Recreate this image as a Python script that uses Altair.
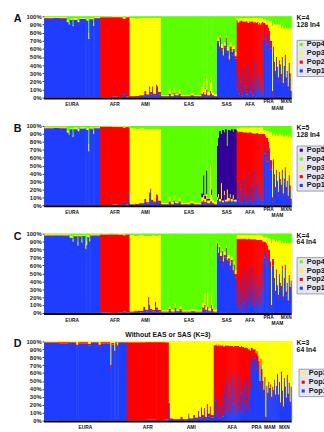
import altair as alt
import pandas as pd

FONT = "Liberation Sans"

# ---------------- colours ----------------
pop_colors = {"Pop1": "#1f3dff", "Pop2": "#ff0000", "Pop3": "#ffff00",
              "Pop4": "#5cff00", "Pop5": "#330099"}

# ---------------- Panel A (K=4, 128 In4): [n, Pop1, Pop2, Pop3, Pop4] ----------------
a_eura = [[10, 97, 1, 1, 1], [5, 98, 0, 1, 1], [8, 97, 1, 1, 1], [2, 93, 0, 2, 5], [1, 90, 0, 3, 7],
          [3, 96, 0, 1, 3], [1, 88, 0, 2, 10], [4, 96, 0, 2, 2], [2, 92, 1, 2, 5], [6, 97, 0, 1, 2],
          [1, 96, 1, 1, 2], [2, 95, 0, 2, 3], [1, 72, 0, 8, 20], [4, 96, 1, 1, 2], [1, 88, 0, 4, 8],
          [6, 97, 1, 1, 1]]
a_afr = [[12, 0, 99, 0, 1], [6, 1, 98, 1, 0], [5, 0, 99, 1, 0], [2, 4, 93, 2, 1], [1, 6, 91, 2, 1],
         [4, 1, 98, 1, 0]]
a_ami = [[6, 1, 1, 96, 2], [4, 0, 2, 95, 3], [5, 2, 1, 95, 2], [2, 5, 3, 90, 2], [3, 2, 2, 94, 2],
         [1, 10, 4, 84, 2], [2, 4, 3, 91, 2], [1, 8, 6, 84, 2], [3, 3, 2, 93, 2], [1, 12, 4, 82, 2],
         [1, 6, 8, 84, 2], [3, 4, 3, 91, 2]]
a_eas = [[8, 1, 1, 1, 97], [2, 3, 2, 6, 89], [3, 1, 1, 2, 96], [1, 4, 2, 6, 88], [4, 2, 1, 1, 96],
         [2, 3, 2, 5, 90], [10, 1, 1, 1, 97], [3, 2, 1, 2, 95], [8, 1, 1, 1, 97], [2, 3, 2, 8, 87],
         [1, 4, 3, 16, 77], [2, 2, 2, 6, 90], [1, 6, 4, 14, 76], [3, 2, 1, 4, 93], [1, 5, 3, 10, 82],
         [1, 3, 2, 20, 75], [2, 2, 1, 3, 94], [3, 1, 1, 2, 96]]
a_sas = [[2, 68, 2, 4, 26], [1, 60, 3, 6, 31], [1, 72, 2, 3, 23], [2, 58, 3, 5, 34], [1, 50, 2, 8, 40],
         [2, 62, 2, 4, 32], [1, 70, 4, 3, 23], [2, 55, 3, 5, 37], [1, 45, 2, 6, 47], [2, 60, 3, 4, 33],
         [1, 52, 4, 6, 38], [2, 58, 2, 4, 36], [2, 48, 3, 5, 44]]
a_afa = [[1, 10, 85, 3, 2], [1, 30, 62, 5, 3], [1, 5, 88, 4, 3], [1, 20, 74, 4, 2], [2, 3, 92, 3, 2],
         [1, 35, 58, 4, 3], [1, 8, 86, 4, 2], [1, 15, 78, 5, 2], [2, 4, 90, 4, 2], [1, 40, 52, 5, 3],
         [1, 12, 80, 6, 2], [1, 6, 88, 4, 2], [1, 25, 68, 5, 2], [2, 3, 91, 4, 2], [1, 18, 74, 6, 2],
         [1, 45, 48, 5, 2], [1, 8, 84, 6, 2], [1, 22, 70, 6, 2], [1, 5, 88, 5, 2], [1, 30, 60, 7, 3],
         [1, 10, 82, 6, 2], [1, 15, 75, 7, 3], [1, 6, 86, 6, 2], [1, 4, 89, 5, 2]]
a_pra = [[2, 72, 20, 4, 4], [1, 80, 10, 6, 4], [2, 65, 25, 5, 5], [1, 78, 8, 10, 4], [1, 70, 12, 12, 6],
         [2, 60, 10, 24, 6], [1, 3, 5, 80, 12], [1, 55, 8, 30, 7]]
a_mam = [[1, 40, 4, 46, 10], [1, 30, 3, 57, 10], [1, 45, 5, 40, 10], [1, 35, 3, 52, 10],
         [1, 20, 5, 65, 10], [1, 42, 4, 44, 10], [1, 38, 3, 50, 9]]
a_mxn = [[1, 25, 4, 56, 15], [1, 45, 5, 38, 12], [1, 15, 3, 67, 15], [1, 35, 4, 46, 15],
         [1, 50, 3, 35, 12], [1, 20, 5, 60, 15], [1, 30, 3, 52, 15], [1, 10, 4, 71, 15],
         [1, 40, 3, 42, 15], [1, 25, 5, 55, 15], [1, 5, 3, 77, 15]]

# ---------------- Panel B (K=5, 128 In4): [n, Pop1, Pop2, Pop3, Pop4, Pop5] ----------------
b_eura = [[10, 97, 1, 1, 1, 0], [5, 98, 0, 1, 1, 0], [8, 97, 1, 1, 1, 0], [2, 92, 0, 2, 6, 0],
          [1, 89, 0, 3, 8, 0], [3, 96, 0, 1, 3, 0], [1, 86, 0, 3, 11, 0], [4, 96, 0, 2, 2, 0],
          [2, 93, 1, 2, 4, 0], [6, 97, 0, 1, 2, 0], [1, 96, 1, 1, 2, 0], [2, 95, 0, 2, 3, 0],
          [1, 68, 0, 10, 22, 0], [4, 96, 1, 1, 2, 0], [1, 90, 0, 4, 6, 0], [6, 97, 1, 1, 1, 0]]
b_afr = [[12, 0, 99, 0, 1, 0], [6, 1, 98, 1, 0, 0], [5, 0, 99, 1, 0, 0], [2, 3, 95, 1, 1, 0],
         [1, 5, 93, 1, 1, 0], [3, 1, 98, 1, 0, 0], [1, 14, 84, 1, 1, 0]]
b_ami = [[6, 1, 1, 95, 3, 0], [4, 0, 2, 94, 4, 0], [5, 2, 1, 94, 3, 0], [2, 5, 3, 88, 4, 0],
         [3, 2, 2, 92, 4, 0], [1, 10, 6, 80, 4, 0], [1, 18, 3, 75, 4, 0], [2, 4, 3, 89, 4, 0],
         [3, 3, 2, 91, 4, 0], [1, 8, 6, 82, 4, 0], [1, 5, 8, 83, 4, 0], [3, 3, 3, 90, 4, 0]]
b_eas = [[8, 1, 1, 1, 97, 0], [2, 3, 2, 5, 90, 0], [3, 1, 1, 2, 96, 0], [1, 4, 2, 6, 88, 0],
         [4, 2, 1, 1, 96, 0], [2, 3, 2, 4, 91, 0], [10, 1, 1, 1, 97, 0], [3, 2, 1, 2, 95, 0],
         [8, 1, 1, 1, 97, 0], [2, 3, 2, 5, 85, 5], [1, 4, 3, 6, 62, 25], [2, 2, 2, 4, 88, 4],
         [1, 5, 3, 6, 56, 30], [3, 2, 1, 3, 92, 2], [1, 3, 2, 45, 50, 0], [1, 3, 2, 8, 80, 7],
         [2, 2, 1, 3, 94, 0], [3, 1, 1, 2, 96, 0]]
b_sas = [[1, 5, 2, 3, 25, 65], [1, 8, 2, 4, 15, 71], [2, 4, 1, 3, 6, 86], [1, 6, 2, 20, 10, 62],
         [2, 3, 1, 2, 5, 89], [1, 10, 3, 5, 8, 74], [2, 4, 1, 2, 4, 89], [1, 3, 2, 15, 25, 55],
         [2, 5, 1, 3, 5, 86], [1, 8, 2, 4, 6, 80], [2, 4, 1, 3, 4, 88], [1, 6, 2, 5, 7, 80],
         [3, 4, 1, 2, 4, 89]]
b_afa = [[1, 10, 84, 4, 2, 0], [1, 30, 62, 5, 3, 0], [1, 5, 88, 4, 3, 0], [1, 20, 73, 5, 2, 0],
         [2, 3, 90, 5, 2, 0], [1, 35, 57, 5, 3, 0], [1, 8, 84, 6, 2, 0], [1, 15, 77, 6, 2, 0],
         [2, 4, 88, 6, 2, 0], [1, 40, 51, 6, 3, 0], [1, 12, 80, 6, 2, 0], [1, 6, 86, 6, 2, 0],
         [1, 25, 67, 6, 2, 0], [2, 3, 88, 7, 2, 0], [1, 18, 72, 8, 2, 0], [1, 45, 46, 7, 2, 0],
         [1, 8, 82, 8, 2, 0], [1, 22, 69, 7, 2, 0], [1, 5, 86, 7, 2, 0], [1, 30, 60, 7, 3, 0],
         [1, 10, 80, 8, 2, 0], [1, 15, 75, 8, 2, 0], [1, 6, 84, 8, 2, 0], [1, 4, 86, 8, 2, 0]]
b_pra = [[2, 65, 25, 5, 5, 0], [1, 75, 12, 8, 5, 0], [2, 55, 30, 8, 7, 0], [1, 70, 10, 14, 6, 0],
         [1, 60, 12, 20, 8, 0], [2, 45, 12, 35, 8, 0], [1, 5, 5, 78, 12, 0], [1, 50, 8, 32, 10, 0]]
b_mam = [[1, 35, 4, 51, 10, 0], [1, 20, 3, 65, 12, 0], [1, 40, 5, 45, 10, 0], [1, 28, 3, 57, 12, 0],
         [1, 12, 5, 71, 12, 0], [1, 38, 4, 48, 10, 0], [1, 30, 3, 57, 10, 0]]
b_mxn = [[1, 22, 4, 62, 12, 0], [1, 40, 5, 44, 11, 0], [1, 12, 3, 72, 13, 0], [1, 30, 4, 52, 14, 0],
         [1, 45, 3, 40, 12, 0], [1, 18, 5, 64, 13, 0], [1, 28, 3, 57, 12, 0], [1, 8, 4, 74, 14, 0],
         [1, 35, 3, 50, 12, 0], [1, 20, 5, 62, 13, 0], [1, 5, 3, 77, 15, 0]]

# ---------------- Panel C (K=4, 64 In4): [n, Pop1, Pop2, Pop3, Pop4] ----------------
c_eura = [[12, 97, 1, 1, 1], [6, 98, 0, 1, 1], [8, 97, 1, 1, 1], [3, 95, 0, 2, 3], [1, 90, 0, 3, 7],
          [4, 96, 1, 1, 2], [1, 85, 0, 5, 10], [3, 96, 1, 1, 2], [1, 88, 1, 4, 7], [3, 97, 0, 1, 2],
          [1, 80, 1, 6, 13], [1, 86, 0, 5, 9], [2, 95, 1, 2, 2], [1, 90, 0, 4, 6], [10, 97, 1, 1, 1]]
c_afr = [[10, 1, 98, 0, 1], [8, 0, 99, 0, 1], [5, 1, 98, 1, 0], [3, 2, 96, 1, 1], [4, 1, 98, 0, 1]]
c_ami = [[5, 1, 1, 96, 2], [4, 2, 1, 94, 3], [5, 1, 2, 95, 2], [2, 5, 3, 89, 3], [3, 2, 2, 93, 3],
         [1, 12, 8, 77, 3], [1, 6, 4, 87, 3], [2, 3, 2, 92, 3], [3, 2, 2, 94, 2], [1, 8, 6, 83, 3],
         [2, 4, 3, 90, 3], [3, 2, 2, 94, 2]]
c_eas = [[8, 1, 1, 1, 97], [2, 3, 2, 4, 91], [4, 1, 1, 2, 96], [1, 5, 2, 5, 88], [4, 2, 1, 1, 96],
         [2, 3, 2, 4, 91], [10, 1, 1, 1, 97], [3, 2, 1, 2, 95], [8, 1, 1, 1, 97], [2, 4, 3, 6, 87],
         [1, 6, 4, 15, 75], [2, 2, 2, 4, 92], [1, 5, 3, 18, 74], [3, 2, 1, 3, 94], [1, 6, 4, 12, 78],
         [1, 3, 2, 5, 90], [4, 1, 1, 2, 96]]
c_sas = [[1, 85, 3, 3, 9], [1, 72, 4, 4, 20], [1, 80, 3, 3, 14], [2, 68, 4, 4, 24], [1, 75, 3, 3, 19],
         [1, 60, 5, 5, 30], [2, 70, 3, 4, 23], [1, 78, 4, 3, 15], [1, 62, 5, 4, 29], [2, 66, 3, 4, 27],
         [1, 55, 5, 5, 35], [2, 64, 3, 4, 29], [1, 50, 4, 5, 41], [1, 58, 3, 4, 35], [2, 45, 4, 5, 46]]
c_afa = [[1, 10, 84, 4, 2], [1, 35, 58, 5, 2], [1, 6, 88, 4, 2], [1, 25, 68, 5, 2], [1, 4, 90, 4, 2],
         [1, 45, 48, 5, 2], [1, 12, 82, 4, 2], [1, 20, 73, 5, 2], [1, 5, 89, 4, 2], [1, 55, 38, 5, 2],
         [1, 15, 78, 5, 2], [1, 30, 63, 5, 2], [1, 8, 86, 4, 2], [1, 40, 53, 5, 2], [1, 18, 75, 5, 2],
         [1, 60, 33, 5, 2], [1, 10, 83, 5, 2], [1, 28, 65, 5, 2], [1, 6, 87, 5, 2], [1, 48, 45, 5, 2],
         [1, 14, 78, 6, 2], [1, 35, 57, 6, 2], [1, 8, 84, 6, 2], [1, 22, 70, 6, 2], [1, 50, 42, 6, 2],
         [1, 12, 80, 6, 2], [1, 30, 60, 7, 3]]
c_pra = [[2, 70, 20, 5, 5], [1, 78, 12, 6, 4], [1, 60, 28, 7, 5], [1, 75, 10, 10, 5], [2, 68, 12, 14, 6],
         [1, 55, 10, 28, 7], [1, 5, 5, 78, 12], [2, 60, 8, 25, 7]]
c_mam = [[1, 40, 4, 48, 8], [1, 25, 3, 62, 10], [1, 50, 5, 37, 8], [1, 32, 3, 55, 10], [1, 18, 5, 67, 10],
         [1, 45, 4, 43, 8], [1, 35, 3, 53, 9]]
c_mxn = [[1, 30, 4, 54, 12], [1, 55, 5, 30, 10], [1, 18, 3, 67, 12], [1, 40, 4, 44, 12],
         [1, 58, 3, 29, 10], [1, 22, 5, 61, 12], [1, 35, 3, 50, 12], [1, 12, 4, 72, 12],
         [1, 45, 3, 40, 12], [1, 28, 5, 55, 12], [1, 38, 3, 47, 12]]

# ---------------- Panel D (K=3, 64 In4, without EAS/SAS): [n, Pop1, Pop2, Pop3] ----------------
d_eura = [[15, 98, 1, 1], [10, 97, 2, 1], [8, 98, 1, 1], [2, 94, 2, 4], [10, 97, 2, 1], [3, 95, 2, 3],
          [8, 98, 1, 1], [2, 93, 3, 4], [10, 97, 2, 1], [1, 65, 5, 30], [3, 96, 2, 2], [1, 84, 4, 12],
          [2, 97, 2, 1], [1, 92, 3, 5], [9, 98, 1, 1]]
d_afr = [[20, 0, 99, 1], [10, 1, 98, 1], [8, 0, 99, 1], [5, 1, 98, 1]]
d_ami = [[1, 18, 4, 78], [3, 2, 1, 97], [8, 1, 1, 98], [2, 3, 2, 95], [6, 1, 1, 98], [1, 6, 3, 91],
         [4, 2, 1, 97], [2, 4, 3, 93], [3, 2, 2, 96], [1, 8, 4, 88], [2, 3, 2, 95], [1, 12, 5, 83],
         [2, 4, 3, 93], [1, 6, 10, 84], [2, 3, 2, 95], [1, 15, 6, 79], [2, 5, 4, 91], [1, 10, 8, 82],
         [3, 4, 3, 93]]
d_afa = [[1, 5, 90, 5], [1, 25, 70, 5], [1, 8, 88, 4], [1, 30, 64, 6], [1, 4, 92, 4], [1, 12, 82, 6],
         [1, 3, 93, 4], [1, 20, 74, 6], [2, 5, 90, 5], [1, 35, 58, 7], [1, 10, 84, 6], [1, 45, 50, 5],
         [1, 8, 86, 6], [1, 55, 40, 5], [1, 15, 79, 6], [1, 30, 64, 6], [1, 6, 88, 6], [1, 50, 44, 6],
         [1, 20, 74, 6], [1, 60, 33, 7], [1, 12, 82, 6], [1, 40, 54, 6], [1, 8, 86, 6], [1, 25, 69, 6],
         [1, 58, 36, 6], [1, 15, 78, 7], [1, 35, 58, 7], [1, 10, 84, 6], [1, 48, 45, 7], [1, 22, 71, 7],
         [1, 6, 86, 8], [1, 42, 50, 8], [1, 18, 74, 8], [1, 55, 37, 8], [1, 30, 60, 10], [1, 12, 78, 10],
         [1, 40, 48, 12]]
d_pra = [[1, 75, 17, 8], [1, 82, 10, 8], [1, 70, 20, 10], [2, 78, 12, 10], [1, 65, 20, 15], [1, 80, 8, 12],
         [1, 72, 10, 18], [1, 60, 15, 25], [1, 40, 10, 50], [1, 70, 8, 22], [1, 55, 10, 35]]
d_mam = [[1, 45, 5, 50], [1, 35, 4, 61], [1, 50, 5, 45], [1, 2, 3, 95], [1, 40, 4, 56], [1, 30, 5, 65],
         [1, 45, 4, 51], [1, 38, 3, 59], [1, 42, 4, 54], [1, 25, 5, 70], [1, 40, 3, 57], [1, 35, 4, 61],
         [1, 48, 4, 48], [1, 30, 3, 67], [1, 40, 4, 56]]
d_mxn = [[1, 55, 4, 41], [1, 30, 3, 67], [1, 45, 4, 51], [1, 20, 3, 77], [1, 58, 4, 38], [1, 35, 3, 62],
         [1, 15, 3, 82], [1, 50, 4, 46], [1, 40, 3, 57], [1, 25, 4, 71], [1, 55, 3, 42], [1, 30, 4, 66],
         [1, 45, 3, 52], [1, 20, 4, 76], [1, 40, 3, 57]]

# label lanes: 0 = normal row, -1 = raised, 1 = lowered
lanes_abc = {"PRA": -1, "MAM": 1, "MXN": -1}
lanes_d = {}

W = 253
OVERLAP = 0.6  # hides anti-aliasing seams between neighbouring columns


def build(groups, pops, stack_order):
    bars, labels = [], []
    total = sum(r[0] for _, data in groups for r in data)
    pos = 0
    for gname, data in groups:
        start = pos
        for r in data:
            n = r[0]
            vals = dict(zip(pops, r[1:]))
            tot = float(sum(vals.values()))
            acc = 0.0
            for p in stack_order:
                v = vals[p] / tot * 100.0
                if v > 0:
                    bars.append(dict(pop=p, x0=pos, x1=min(pos + n + OVERLAP, total),
                                     y0=acc, y1=acc + v))
                acc += v
            pos += n
        labels.append(dict(group=gname, xc=(start + pos) / 2.0))
    return pd.DataFrame(bars), pd.DataFrame(labels), total


def panel(letter, groups, pops, stack_order, ktext, ntext, legend_x, legend_y, lanes, height,
          title=None):
    bars, labels, total = build(groups, pops, stack_order)
    labels["lane"] = [lanes.get(g, 0) for g in labels["group"]]
    xs = alt.Scale(domain=[0, total], nice=False, zero=False)
    ys = alt.Scale(domain=[0, 100], nice=False)
    order = list(reversed(pops))
    cscale = alt.Scale(domain=order, range=[pop_colors[p] for p in order])

    rects = alt.Chart(bars).mark_rect().encode(
        x=alt.X("x0:Q", scale=xs, axis=None),
        x2="x1:Q",
        y=alt.Y("y0:Q", scale=ys, title=None,
                axis=alt.Axis(values=list(range(0, 101, 10)), labelExpr="datum.value + '%'",
                              grid=False, domain=False, tickSize=2, tickColor="#333",
                              labelFontSize=6, labelFontWeight="bold", labelFont=FONT,
                              labelColor="#222", labelPadding=1)),
        y2="y1:Q",
        color=alt.Color("pop:N", scale=cscale,
                        legend=alt.Legend(title=None, orient="none", legendX=legend_x,
                                          legendY=legend_y,
                                          fillColor="#e6e6f3", strokeColor="#9a9aa8",
                                          padding=1, labelFontSize=7.5, labelFont=FONT,
                                          labelFontWeight="bold", labelColor="#111",
                                          symbolType="square", symbolSize=10,
                                          symbolStrokeWidth=0, rowPadding=0, labelOffset=2,
                                          cornerRadius=0)),
    )
    one = pd.DataFrame({"k": [0]})
    base_rule = alt.Chart(one).mark_rule(color="black", strokeWidth=2).encode(
        x=alt.value(0), x2=alt.value(W), y=alt.value(height + 1))
    layers = [rects, base_rule]
    for lane in (-1, 0, 1):
        sub = labels[labels["lane"] == lane]
        if len(sub) == 0:
            continue
        layers.append(alt.Chart(sub).mark_text(fontSize=5, fontWeight="bold", font=FONT,
                                               baseline="middle", color="#111").encode(
            x=alt.X("xc:Q", scale=xs), y=alt.value(height + 7 + 3.3 * lane), text="group:N"))
    layers.append(alt.Chart(one).mark_text(fontSize=11, fontWeight="bold", font=FONT, align="left",
                                           baseline="middle", color="#111").encode(
        x=alt.value(-31), y=alt.value(3), text=alt.value(letter)))
    layers.append(alt.Chart(one).mark_text(fontSize=7, fontWeight="bold", font=FONT, align="left",
                                           baseline="middle", color="#111").encode(
        x=alt.value(W + 5), y=alt.value(2), text=alt.value(ktext)))
    layers.append(alt.Chart(one).mark_text(fontSize=7, fontWeight="bold", font=FONT, align="left",
                                           baseline="middle", color="#111").encode(
        x=alt.value(W + 5), y=alt.value(9), text=alt.value(ntext)))
    if title:
        layers.append(alt.Chart(one).mark_text(fontSize=7, fontWeight="bold", font=FONT,
                                               align="center", baseline="middle",
                                               color="#111").encode(
            x=alt.value(W / 2), y=alt.value(-6), text=alt.value(title)))
    return alt.layer(*layers).properties(width=W, height=height)


pops4 = ["Pop1", "Pop2", "Pop3", "Pop4"]
pops5 = ["Pop1", "Pop2", "Pop3", "Pop4", "Pop5"]
pops3 = ["Pop1", "Pop2", "Pop3"]

pA = panel("A", [("EURA", a_eura), ("AFR", a_afr), ("AMI", a_ami), ("EAS", a_eas), ("SAS", a_sas),
                 ("AFA", a_afa), ("PRA", a_pra), ("MAM", a_mam), ("MXN", a_mxn)],
           pops4, pops4, "K=4", "128 In4", 258, 24, lanes_abc, 83)
pB = panel("B", [("EURA", b_eura), ("AFR", b_afr), ("AMI", b_ami), ("EAS", b_eas), ("SAS", b_sas),
                 ("AFA", b_afa), ("PRA", b_pra), ("MAM", b_mam), ("MXN", b_mxn)],
           pops5, ["Pop1", "Pop2", "Pop3", "Pop5", "Pop4"], "K=5", "128 In4", 258, 20, lanes_abc, 81)
pC = panel("C", [("EURA", c_eura), ("AFR", c_afr), ("AMI", c_ami), ("EAS", c_eas), ("SAS", c_sas),
                 ("AFA", c_afa), ("PRA", c_pra), ("MAM", c_mam), ("MXN", c_mxn)],
           pops4, pops4, "K=4", "64 In4", 258, 24, lanes_abc, 81)
pD = panel("D", [("EURA", d_eura), ("AFR", d_afr), ("AMI", d_ami), ("AFA", d_afa), ("PRA", d_pra),
                 ("MAM", d_mam), ("MXN", d_mxn)],
           pops3, pops3, "K=3", "64 In4", 260, 28, lanes_d, 81, title="Without EAS or SAS (K=3)")

chart = alt.vconcat(pA, pB, pC, pD, spacing=29, bounds="flush").resolve_scale(
    color="independent", x="independent", y="independent"
).properties(
    padding={"left": 13, "top": 8, "right": -5, "bottom": 0}, background="white"
).configure_view(stroke=None).configure(font=FONT)

chart.save("out.html", embed_options={"renderer": "svg", "actions": False})
